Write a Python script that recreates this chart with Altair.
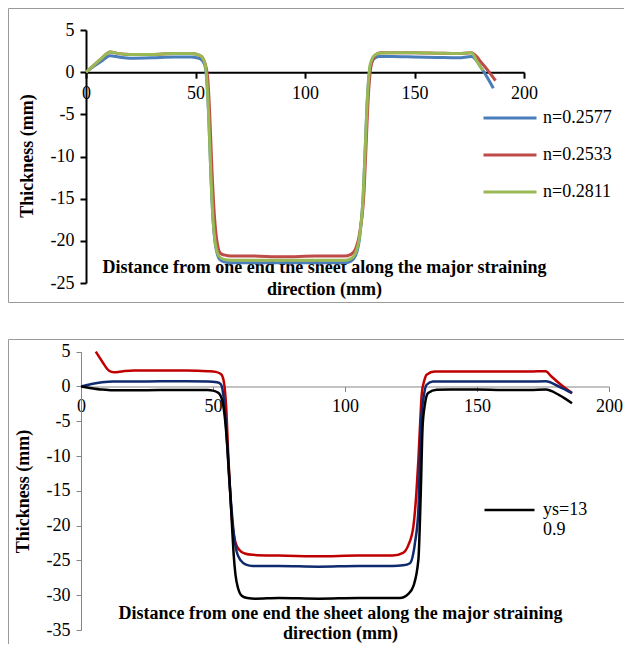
import altair as alt
import pandas as pd

FONT = "Liberation Serif"

# ---------------- top panel data ----------------
top_names = ["n=0.2577", "n=0.2533", "n=0.2811"]
top_colors = ["#4a7ebb", "#be4b48", "#98b954"]

top_blue_x = [0, 3, 7, 11, 15, 20, 30, 40, 48, 52, 54, 55, 56, 57, 58, 59, 60, 61, 63, 66, 75, 90, 105, 118,
              121, 123, 125, 126.5, 127.5, 128.5, 129.5, 130.5, 132, 134, 140, 150, 160, 170, 176, 181, 186]
top_blue_y = [0, 0.6, 1.3, 1.95, 1.8, 1.65, 1.7, 1.8, 1.8, 1.6, 1.0, -0.5, -5, -12, -17.5, -20.3, -21.6, -22.2, -22.5, -22.6, -22.6, -22.6, -22.6, -22.6,
              -22.4, -21.8, -19.5, -15, -9, -3, 0.2, 1.2, 1.7, 1.85, 1.85, 1.8, 1.75, 1.7, 1.85, 0.3, -1.9]

top_red_x = [0, 3, 7, 11, 15, 20, 30, 40, 48, 52, 54, 55.5, 56.5, 57.5, 58.5, 59.5, 60.5, 61.5, 63.5, 66, 75, 90, 105, 118,
             121, 123, 125, 127, 128, 129, 130, 131, 132.5, 134.5, 140, 150, 160, 170, 176, 181, 187]
top_red_y = [0, 0.7, 1.6, 2.4, 2.2, 2.1, 2.1, 2.2, 2.2, 2.0, 1.3, -0.5, -5, -11.5, -16.5, -19.5, -21.0, -21.5, -21.7, -21.8, -21.8, -21.9, -21.8, -21.8,
             -21.6, -21.0, -19.0, -14, -8, -2.5, 0.5, 1.5, 2.1, 2.3, 2.3, 2.3, 2.25, 2.2, 2.3, 1.0, -1.0]

top_green_x = [0, 3, 7, 11, 15, 20, 30, 40, 48, 52, 54, 55, 56, 57, 58, 59, 60, 61, 63, 66, 75, 90, 105, 118,
               121, 123, 125, 126.5, 127.5, 128.5, 129.5, 130.5, 132, 134, 140, 150, 160, 170, 176, 178.5, 181.3]
top_green_y = [0, 0.7, 1.6, 2.4, 2.2, 2.1, 2.1, 2.2, 2.2, 2.0, 1.3, -0.3, -5, -12, -17.5, -20.2, -21.4, -21.9, -22.2, -22.3, -22.3, -22.3, -22.3, -22.3,
               -22.1, -21.5, -19.3, -15, -9, -3, 0.5, 1.5, 2.05, 2.25, 2.3, 2.3, 2.25, 2.2, 2.3, 1.3, 0.2]

# ---------------- bottom panel data ----------------
bot_red_x = [5.6, 8, 10.5, 12.5, 16, 20, 30, 40, 48, 51, 53, 54, 55, 55.8, 56.6, 57.4, 58.5, 60, 62, 65, 75, 90, 105, 118,
             122, 124, 125.9, 127, 127.8, 128.5, 129.1, 130, 130.9, 134, 140, 150, 160, 170, 176, 178, 181, 186]
bot_red_y = [5.0, 3.6, 2.3, 2.05, 2.2, 2.3, 2.3, 2.3, 2.2, 2.1, 1.8, 0.9, -3, -10, -16, -20, -22.4, -23.5, -24.0, -24.2, -24.3, -24.4, -24.3, -24.3,
             -23.9, -22.8, -20.1, -15.5, -10.5, -5, -0.95, 0.8, 1.7, 2.15, 2.15, 2.15, 2.15, 2.15, 2.2, 1.5, 0.5, -0.95]

bot_blue_x = [0, 4, 8, 12, 20, 30, 40, 48, 51.5, 53, 54, 55, 56, 57, 58, 59, 60.5, 62.5, 65, 75, 90, 105, 118,
              122, 124.6, 126.5, 127.8, 128.7, 129.8, 130.9, 133.3, 140, 150, 160, 170, 176, 181, 186]
bot_blue_y = [0, 0.35, 0.6, 0.72, 0.7, 0.75, 0.75, 0.72, 0.6, 0.3, -1.5, -6, -12.5, -17.5, -21.5, -23.8, -25.0, -25.6, -25.8, -25.8, -25.9, -25.8, -25.8,
              -25.7, -25.4, -22.5, -17.7, -5.7, -1.5, 0.25, 0.72, 0.72, 0.72, 0.7, 0.7, 0.75, 0.0, -0.95]

bot_black_x = [0, 4, 8, 12, 20, 30, 40, 48, 50, 52, 53.5, 54.5, 55.5, 56.5, 57.2, 57.8, 58.5, 59.5, 61, 63, 66, 75, 90, 105, 118,
               120.8, 124, 125.9, 127.8, 128.7, 129.4, 130.3, 131.5, 134.7, 140, 150, 160, 170, 176, 181, 186]
bot_black_y = [0, -0.25, -0.45, -0.55, -0.55, -0.5, -0.5, -0.5, -0.6, -0.9, -2, -4.5, -9, -15, -20, -24, -27, -29, -30.1, -30.4, -30.5, -30.4, -30.5, -30.4, -30.4,
               -30.4, -29.8, -28.7, -24.9, -15.3, -5.7, -2.5, -0.95, -0.47, -0.45, -0.45, -0.5, -0.5, -0.45, -1.2, -2.4]

bot_names = ["red", "blue", "ys=13 0.9"]
bot_colors = ["#c00000", "#0f2a6e", "#000000"]

x_ticks = [0, 50, 100, 150, 200]
top_y_ticks = [5, 0, -5, -10, -15, -20, -25]
bot_y_ticks = [5, 0, -5, -10, -15, -20, -25, -30, -35]

x_title = ["Distance from one end the sheet along the major straining", "direction (mm)"]
y_title = "Thickness (mm)"


def frame(xs, ys, name):
    return pd.DataFrame({"x": xs, "y": ys, "series": name, "i": range(len(xs))})


top_df = pd.concat([
    frame(top_blue_x, top_blue_y, top_names[0]),
    frame(top_red_x, top_red_y, top_names[1]),
    frame(top_green_x, top_green_y, top_names[2]),
])

bot_red_df = frame(bot_red_x, bot_red_y, bot_names[0])
bot_blue_df = frame(bot_blue_x, bot_blue_y, bot_names[1])
bot_black_df = frame(bot_black_x, bot_black_y, bot_names[2])

W, H = 616, 636

axis_common = dict(grid=False, labelFont=FONT, labelFontSize=18, labelColor="black",
                   titleFont=FONT, titleFontSize=18, titleFontWeight="bold", titleColor="black",
                   labelExpr="toString(datum.value)", labelFlush=False, labelOverlap=False)

# ---------------- top panel ----------------
top_x_scale = alt.Scale(domain=[0, 200], range=[78, 516], nice=False, zero=False)
top_y_scale = alt.Scale(domain=[-25, 5], range=[275, 22], nice=False, zero=False)
top_y0 = 22 + (5 / 30) * 253

top = alt.Chart(top_df).mark_line(strokeWidth=3, interpolate="monotone").encode(
    x=alt.X("x:Q", scale=top_x_scale,
            axis=alt.Axis(orient="bottom", values=x_ticks, offset=top_y0 - H, title=x_title,
                          titleX=316, titleY=186, titleBaseline="top", titleLineHeight=22,
                          domainColor="black", domainWidth=2, tickColor="black", tickWidth=2, tickSize=6,
                          labelPadding=6, **axis_common)),
    y=alt.Y("y:Q", scale=top_y_scale,
            axis=alt.Axis(orient="left", values=top_y_ticks, offset=-78, title=y_title,
                          titleX=-59, titleY=147.5, titleAngle=270, titleBaseline="middle",
                          domainColor="black", domainWidth=2, tickColor="black", tickWidth=2, tickSize=6,
                          labelPadding=6, **axis_common)),
    color=alt.Color("series:N", sort=top_names,
                    scale=alt.Scale(domain=top_names, range=top_colors),
                    legend=alt.Legend(orient="none", legendX=474, legendY=91.5, title=None,
                                      symbolType="stroke", symbolSize=2809, symbolStrokeWidth=3,
                                      labelFont=FONT, labelFontSize=18, labelColor="black",
                                      clipHeight=37, rowPadding=0, padding=0, labelOffset=5)),
    detail="series:N",
    order="i:Q",
)

# ---------------- bottom panel ----------------
bot_x_scale = alt.Scale(domain=[0, 200], range=[73, 601], nice=False, zero=False)
bot_y_scale = alt.Scale(domain=[-35, 5], range=[622, 343.7], nice=False, zero=False)
bot_y0 = 343.7 + (5 / 40) * (622 - 343.7)

bx = alt.X("x:Q", scale=bot_x_scale,
           axis=alt.Axis(orient="bottom", values=x_ticks, offset=bot_y0 - H, title=x_title,
                         titleX=332, titleY=218, titleBaseline="top", titleLineHeight=20,
                         domainColor="#868686", domainWidth=1, tickColor="#868686", tickWidth=1, tickSize=5,
                         labelPadding=6, **axis_common))
by = alt.Y("y:Q", scale=bot_y_scale,
           axis=alt.Axis(orient="left", values=bot_y_ticks, offset=-73, title=y_title,
                         titleX=-58, titleY=483, titleAngle=270, titleBaseline="middle",
                         domainColor="#868686", domainWidth=1, tickColor="#868686", tickWidth=1, tickSize=5,
                         labelPadding=6, **axis_common))

bot_red = alt.Chart(bot_red_df).mark_line(strokeWidth=2.5, interpolate="monotone", color=bot_colors[0]).encode(
    x=bx, y=by, order="i:Q")
bot_blue = alt.Chart(bot_blue_df).mark_line(strokeWidth=2.5, interpolate="monotone", color=bot_colors[1]).encode(
    x=bx, y=by, order="i:Q")
bot_black = alt.Chart(bot_black_df).mark_line(strokeWidth=2.5, interpolate="monotone").encode(
    x=bx, y=by, order="i:Q",
    color=alt.Color("series:N", scale=alt.Scale(domain=[bot_names[2]], range=[bot_colors[2]]),
                    legend=alt.Legend(orient="none", legendX=475, legendY=483.5, title=None,
                                      symbolType="stroke", symbolSize=2500, symbolStrokeWidth=2.5,
                                      labelFont=FONT, labelFontSize=18, labelColor="black",
                                      labelBaseline="middle",
                                      labelExpr="['ys=13', '0.9']",
                                      clipHeight=37, rowPadding=0, padding=0, labelOffset=7)))

bottom = alt.layer(bot_red, bot_blue, bot_black)

# ---------------- chart-area frames (decoration) ----------------
one = pd.DataFrame({"k": [0]})
frame_top = alt.Chart(one).mark_rect(fill="transparent", stroke="#9a9a9a", strokeWidth=1).encode(
    x=alt.value(0.5), x2=alt.value(W + 20), y=alt.value(0.5), y2=alt.value(294.5))
frame_bot = alt.Chart(one).mark_rect(fill="transparent", stroke="#9a9a9a", strokeWidth=1).encode(
    x=alt.value(0.5), x2=alt.value(W + 20), y=alt.value(331.5), y2=alt.value(H + 20))

chart = alt.layer(frame_top, frame_bot, top, bottom).resolve_scale(
    x="independent", y="independent", color="independent"
).properties(
    width=W, height=H, padding=0, autosize=alt.AutoSizeParams(type="none")
).configure_view(stroke=None)

chart.save("out.html", embed_options={"renderer": "svg", "actions": False})
